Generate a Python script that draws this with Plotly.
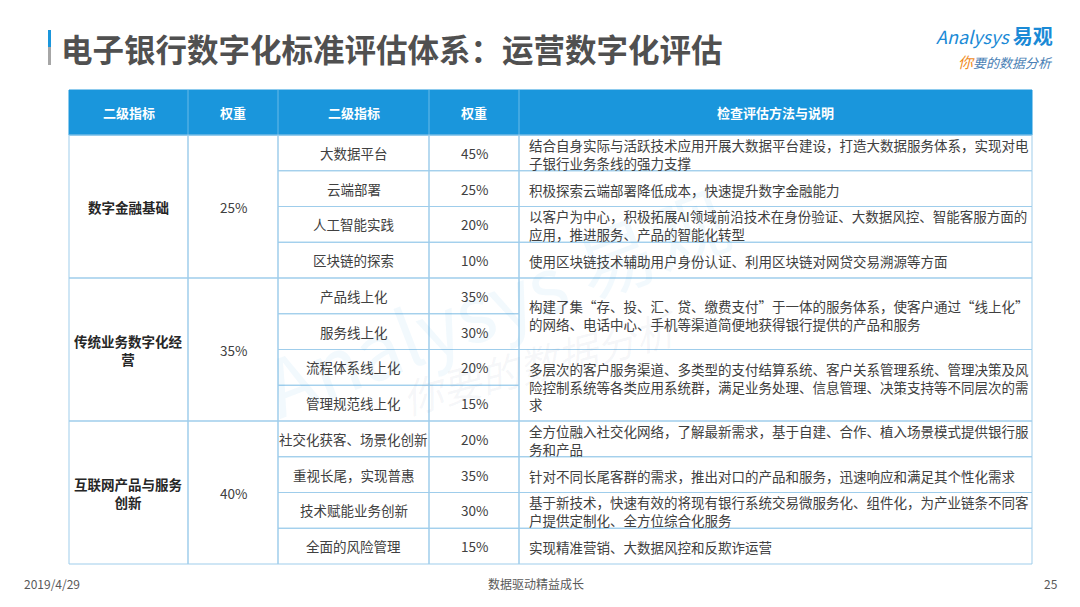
import plotly.graph_objects as go

# ---------------- data ----------------
header_labels = ["二级指标", "权重", "二级指标", "权重", "检查评估方法与说明"]
group_names = ["数字金融基础", "传统业务数字化经<br>营", "互联网产品与服务<br>创新"]
group_weights = ["25%", "35%", "40%"]
group_sizes = [4, 4, 4]
sub_names = ["大数据平台", "云端部署", "人工智能实践", "区块链的探索",
             "产品线上化", "服务线上化", "流程体系线上化", "管理规范线上化",
             "社交化获客、场景化创新", "重视长尾，实现普惠", "技术赋能业务创新", "全面的风险管理"]
sub_weights = ["45%", "25%", "20%", "10%",
               "35%", "30%", "20%", "15%",
               "20%", "35%", "30%", "15%"]
descriptions = [
    "结合自身实际与活跃技术应用开展大数据平台建设，打造大数据服务体系，实现对电<br>子银行业务条线的强力支撑",
    "积极探索云端部署降低成本，快速提升数字金融能力",
    "以客户为中心，积极拓展AI领域前沿技术在身份验证、大数据风控、智能客服方面的<br>应用，推进服务、产品的智能化转型",
    "使用区块链技术辅助用户身份认证、利用区块链对网贷交易溯源等方面",
    "构建了集“存、投、汇、贷、缴费支付”于一体的服务体系，使客户通过“线上化”<br>的网络、电话中心、手机等渠道简便地获得银行提供的产品和服务",
    "多层次的客户服务渠道、多类型的支付结算系统、客户关系管理系统、管理决策及风<br>险控制系统等各类应用系统群，满足业务处理、信息管理、决策支持等不同层次的需<br>求",
    "全方位融入社交化网络，了解最新需求，基于自建、合作、植入场景模式提供银行服<br>务和产品",
    "针对不同长尾客群的需求，推出对口的产品和服务，迅速响应和满足其个性化需求",
    "基于新技术，快速有效的将现有银行系统交易微服务化、组件化，为产业链条不同客<br>户提供定制化、全方位综合化服务",
    "实现精准营销、大数据风控和反欺诈运营",
]
desc_spans = [1, 1, 1, 1, 2, 2, 1, 1, 1, 1]

title_text = "电子银行数字化标准评估体系：运营数字化评估"
footer_left = "2019/4/29"
footer_center = "数据驱动精益成长"
footer_right = "25"

# ---------------- layout constants ----------------
# the page body has an 8px margin, so the figure is sized to fit and its
# axes are offset so that one data unit equals one screen pixel
OFF = 8
W, H = 1080 - 2 * OFF, 607 - 2 * OFF
FONT = "Noto Sans CJK SC"
col_x = [69, 188, 278, 429, 519, 1032]
head_top, head_bot = 90, 135
table_bot = 564
n_rows = len(sub_names)
row_h = (table_bot - head_bot) / n_rows
HEAD_BLUE = "#1A96DC"
GRID = "#9FCDEB"
TXT = "#404040"

fig = go.Figure()
# invisible anchor trace so that axes exist
fig.add_trace(go.Scatter(x=[OFF + 1, OFF + W - 1], y=[OFF + 1, OFF + H - 1], mode="markers",
                         marker=dict(opacity=0), hoverinfo="skip", showlegend=False))

shapes = []
ann = []

def rect(x0, x1, y0, y1, fill=None, line=GRID, width=1):
    shapes.append(dict(type="rect", xref="x", yref="y", x0=x0, x1=x1, y0=y0, y1=y1,
                       fillcolor=fill if fill else "rgba(0,0,0,0)",
                       line=dict(color=line, width=width), layer="above"))

def text(x, y, s, size=13.5, color=TXT, xanchor="center", align="center", bold=False,
         angle=0, yanchor="middle", family=FONT):
    ann.append(dict(x=x, y=y, xref="x", yref="y", text=s, showarrow=False,
                    xanchor=xanchor, yanchor=yanchor, align=align, textangle=angle,
                    font=dict(family=family, size=size, color=color,
                              weight="bold" if bold else "normal")))

# watermark (very faint)
text(495, 300, "Analysys 易观", size=78, color="rgba(40,150,220,0.06)", angle=-21)
text(540, 362, "<i>你要的数据分析</i>", size=40, color="rgba(120,140,170,0.07)", angle=-15)

# header
rect(col_x[0], col_x[-1], head_top, head_bot, fill=HEAD_BLUE, line=HEAD_BLUE)
for i, lab in enumerate(header_labels):
    text((col_x[i] + col_x[i + 1]) / 2, (head_top + head_bot) / 2, lab,
         size=13, color="white", bold=True)
for xv in col_x[1:-1]:
    shapes.append(dict(type="line", xref="x", yref="y", x0=xv, x1=xv, y0=head_top, y1=head_bot,
                       line=dict(color="rgba(255,255,255,0.35)", width=1), layer="above"))

# groups
r = 0
for g, (gname, gw, gs) in enumerate(zip(group_names, group_weights, group_sizes)):
    y0 = head_bot + r * row_h
    y1 = head_bot + (r + gs) * row_h
    rect(col_x[0], col_x[1], y0, y1)
    rect(col_x[1], col_x[2], y0, y1)
    text((col_x[0] + col_x[1]) / 2, (y0 + y1) / 2, gname, size=13.5, color="#262626", bold=True)
    text((col_x[1] + col_x[2]) / 2, (y0 + y1) / 2, gw, size=13.5)
    r += gs

# sub indicators
for i, (sn, sw) in enumerate(zip(sub_names, sub_weights)):
    y0 = head_bot + i * row_h
    y1 = y0 + row_h
    rect(col_x[2], col_x[3], y0, y1)
    rect(col_x[3], col_x[4], y0, y1)
    text((col_x[2] + col_x[3]) / 2, (y0 + y1) / 2, sn, size=13.5)
    text((col_x[3] + col_x[4]) / 2, (y0 + y1) / 2, sw, size=13.5)

# descriptions
r = 0
for d, sp in zip(descriptions, desc_spans):
    y0 = head_bot + r * row_h
    y1 = head_bot + (r + sp) * row_h
    rect(col_x[4], col_x[5], y0, y1)
    text(col_x[4] + 8, (y0 + y1) / 2 + 1, d, size=13.5, xanchor="left", align="left")
    r += sp

# title + bar
shapes.append(dict(type="rect", xref="x", yref="y", x0=48, x1=51, y0=30, y1=47,
                   fillcolor=HEAD_BLUE, line=dict(width=0)))
shapes.append(dict(type="rect", xref="x", yref="y", x0=48, x1=51, y0=47, y1=65,
                   fillcolor="#A6A6A6", line=dict(width=0)))
text(59, 48, title_text, size=31.5, color="#505050", xanchor="left", align="left", bold=True)

# logo
text(1055, 35, "<i>Analysys</i> <b><span style='font-size:20px'>易观</span></b>", size=18,
     color="#1A8AD6", xanchor="right", align="right")
text(1055, 61, "<i><span style='color:#F08C1E;font-size:15px'>你</span>要的数据分析</i>", size=13,
     color="#4A7FB5", xanchor="right", align="right")

# footer
text(22, 583, footer_left, size=12, color="#595959", xanchor="left", align="left")
text(536, 583, footer_center, size=12, color="#595959")
text(1060, 583, footer_right, size=12, color="#595959", xanchor="right", align="right")

fig.update_layout(
    width=W, height=H,
    margin=dict(l=0, r=0, t=0, b=0),
    paper_bgcolor="white", plot_bgcolor="white",
    xaxis=dict(range=[OFF, OFF + W], visible=False, fixedrange=True),
    yaxis=dict(range=[OFF + H, OFF], visible=False, fixedrange=True),
    shapes=shapes, annotations=ann, showlegend=False,
    font=dict(family=FONT),
)
fig.write_html("out.html")
